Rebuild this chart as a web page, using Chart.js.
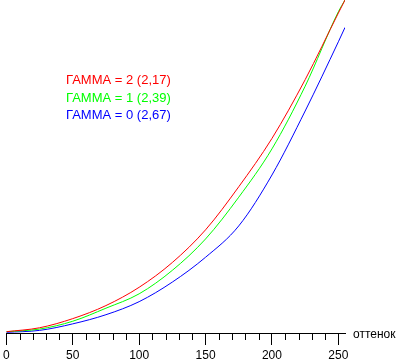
<!DOCTYPE html>
<html>
<head>
<meta charset="utf-8">
<script src="https://cdn.jsdelivr.net/npm/chart.js@4"></script>
<style>
    html, body { margin: 0; padding: 0; background: #fff; }
    canvas { display: block; }
</style>
</head>
<body>
<canvas id="gammaChart" width="396" height="359"></canvas>
<script>
// hue (x) samples and output level for each gamma setting
const hueSteps = [0, 25, 50, 75, 100, 125, 150, 175, 200, 225, 250, 255];
const redValues = [1, 4, 11, 21, 35, 54, 79, 112, 149, 194, 245, 255];
const greenValues = [1, 3, 9, 19, 30, 48, 72, 104, 141, 189, 246, 255];
const blueValues = [0.5, 2, 7, 14, 24, 39, 58, 82, 121, 170, 223, 234];
const tickValues = [0, 10, 20, 30, 40, 50, 60, 70, 80, 90, 100, 110, 120, 130, 140, 150, 160, 170, 180, 190, 200, 210, 220, 230, 240, 250];

const seriesLabels = ['ГАММА = 2 (2,17)', 'ГАММА = 1 (2,39)', 'ГАММА = 0 (2,67)'];
const seriesColors = ['#ff0000', '#00ff00', '#0000ff'];
const axisTitle = 'оттенок';

const toPoints = values => values.map((v, i) => ({ x: hueSteps[i], y: v }));

Chart.defaults.font.family = '"Liberation Sans", Arial, sans-serif';
Chart.defaults.color = '#000';

// short ticks between the labelled ones, plus the axis caption
const axisExtras = {
    id: 'axisExtras',
    afterDraw(chart) {
        const ctx = chart.ctx;
        const xScale = chart.scales.x;
        const bottom = chart.chartArea.bottom;
        ctx.save();
        ctx.strokeStyle = '#000';
        ctx.lineWidth = 1;
        tickValues.forEach(v => {
            if (v % 50 === 0) return;
            const px = Math.round(xScale.getPixelForValue(v)) + 0.5;
            ctx.beginPath();
            ctx.moveTo(px, bottom);
            ctx.lineTo(px, bottom + 7);
            ctx.stroke();
        });
        ctx.font = '12px "Liberation Sans", Arial, sans-serif';
        ctx.fillStyle = '#000';
        ctx.textBaseline = 'alphabetic';
        ctx.fillText(axisTitle, chart.chartArea.right + 8, bottom + 5);
        ctx.restore();
    }
};

// coloured text legend in the upper left
const textLegend = {
    id: 'textLegend',
    afterDraw(chart) {
        const ctx = chart.ctx;
        ctx.save();
        ctx.font = '13px "Liberation Sans", Arial, sans-serif';
        ctx.textBaseline = 'alphabetic';
        chart.data.datasets.forEach((ds, i) => {
            ctx.fillStyle = ds.borderColor;
            ctx.fillText(ds.label, 66, 84 + i * 17.5);
        });
        ctx.restore();
    }
};

new Chart(document.getElementById('gammaChart'), {
    type: 'line',
    data: {
        datasets: [redValues, greenValues, blueValues].map((values, i) => ({
            label: seriesLabels[i],
            data: toPoints(values),
            borderColor: seriesColors[i],
            borderWidth: 1,
            pointRadius: 0,
            fill: false,
            cubicInterpolationMode: 'monotone'
        }))
    },
    options: {
        responsive: false,
        animation: false,
        layout: {
            padding: { left: 4, right: 51, top: 0, bottom: 0 }
        },
        plugins: {
            legend: { display: false },
            tooltip: { enabled: false }
        },
        scales: {
            x: {
                type: 'linear',
                min: 0,
                max: 255,
                afterBuildTicks: scale => {
                    scale.ticks = tickValues.map(v => ({ value: v }));
                },
                afterFit: scale => {
                    scale.height = 26;
                },
                border: { display: true, color: '#000', width: 1 },
                grid: {
                    drawOnChartArea: false,
                    drawTicks: true,
                    tickLength: 12,
                    tickWidth: 1,
                    tickColor: ctx => (ctx.tick && ctx.tick.value % 50 === 0) ? '#000' : 'rgba(0,0,0,0)'
                },
                ticks: {
                    autoSkip: false,
                    maxRotation: 0,
                    padding: 3,
                    font: { size: 12 },
                    callback: v => (v % 50 === 0 ? String(v) : '')
                }
            },
            y: {
                display: false,
                min: 0,
                max: 255
            }
        }
    },
    plugins: [axisExtras, textLegend]
});
</script>
</body>
</html>
